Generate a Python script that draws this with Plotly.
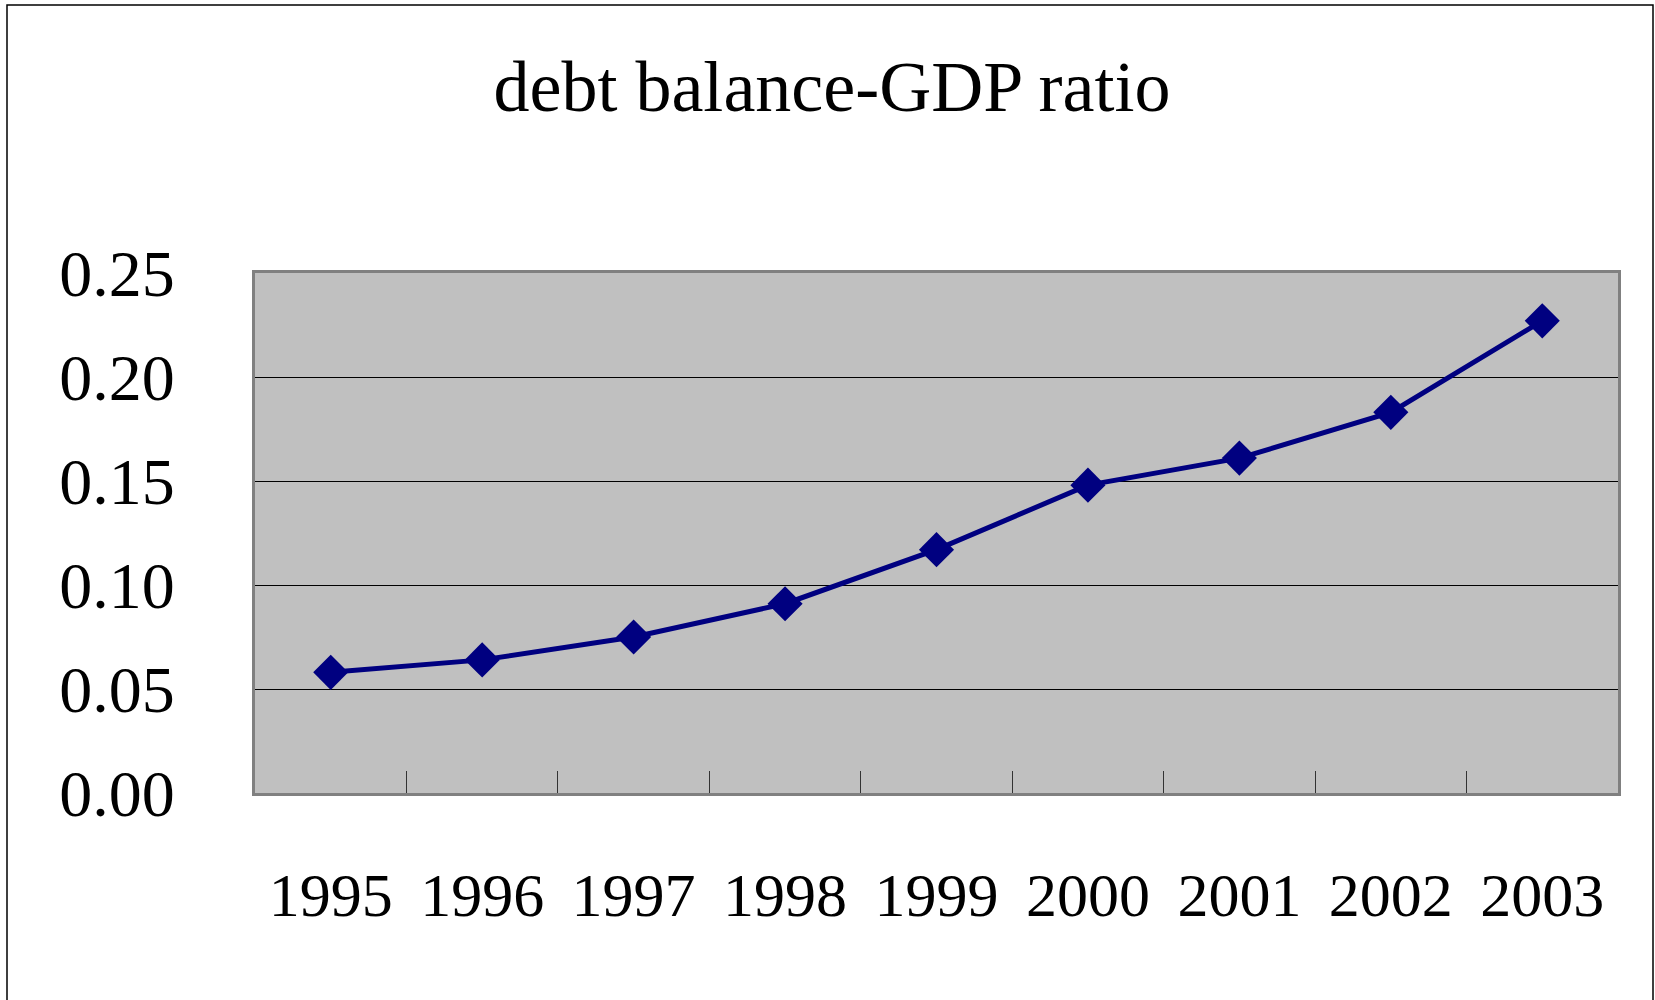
import plotly.graph_objects as go

# Debt balance as a share of GDP, 1995-2003
years = ["1995", "1996", "1997", "1998", "1999", "2000", "2001", "2002", "2003"]
debt_gdp_ratio = [0.058, 0.064, 0.075, 0.091, 0.117, 0.148, 0.161, 0.183, 0.227]
y_ticks = [0.00, 0.05, 0.10, 0.15, 0.20, 0.25]

NAVY = "#000080"
FONT = "Liberation Serif"

W, H = 1655, 1000
L, R, T, B = 255, 37, 273, 207

fig = go.Figure()

fig.add_trace(go.Scatter(
    x=years, y=debt_gdp_ratio, mode="lines+markers",
    line=dict(color=NAVY, width=5),
    marker=dict(symbol="diamond", size=27, color=NAVY),
    hoverinfo="x+y", showlegend=False,
))

pw = W - L - R
ph = H - T - B
# outer chart frame (extends past the bottom edge of the page)
fig.add_shape(
    type="rect", xref="paper", yref="paper",
    x0=(7 - L) / pw, x1=(1653 - L) / pw,
    y0=-(H + 20 - T - ph) / ph, y1=1 + (T - 5) / ph,
    line=dict(color="black", width=1.5), fillcolor="rgba(0,0,0,0)", layer="below",
)

fig.update_layout(
    width=W, height=H,
    margin=dict(l=L, r=R, t=T, b=B, pad=0),
    paper_bgcolor="white",
    plot_bgcolor="#C0C0C0",
    font=dict(family=FONT, color="black"),
    title=dict(
        text="debt balance-GDP ratio",
        font=dict(family=FONT, size=72, color="black"),
        x=832 / W, xref="container", xanchor="center",
        y=1 - 86 / H, yref="container", yanchor="middle",
    ),
    xaxis=dict(
        type="category",
        range=[-0.5, len(years) - 0.5],
        tickson="boundaries",
        ticks="inside", ticklen=22, tickcolor="#333333", tickwidth=1,
        showgrid=False,
        showline=True, linecolor="#808080", linewidth=3, mirror=True,
        tickfont=dict(family=FONT, size=62, color="black"),
        ticklabelstandoff=46,
        fixedrange=True,
    ),
    yaxis=dict(
        range=[0, 0.25],
        tickvals=y_ticks,
        tickformat=".2f",
        ticks="inside", ticklen=18, tickcolor="black", tickwidth=1,
        showgrid=True, gridcolor="black", gridwidth=1,
        zeroline=False,
        showline=True, linecolor="#808080", linewidth=3, mirror=True,
        tickfont=dict(family=FONT, size=66, color="black"),
        ticklabelstandoff=64,
        fixedrange=True,
    ),
)

fig.write_html("out.html")
